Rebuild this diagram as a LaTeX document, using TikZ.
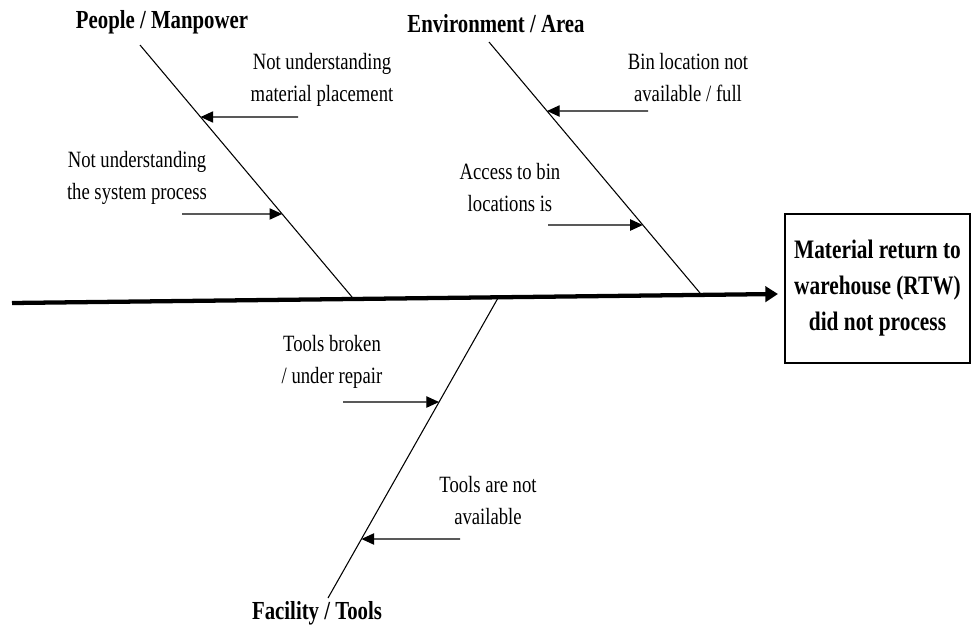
\documentclass[tikz,border=0pt]{standalone}
\usepackage{fontspec}
\setmainfont{Liberation Serif}
\newfontfamily\lblfont[FakeStretch=0.8]{Liberation Serif}
\usetikzlibrary{arrows.meta,calc}
\begin{document}
\begin{tikzpicture}[x=0.75pt,y=-0.75pt,
  lbl/.style={font=\lblfont\fontsize{17.5}{24}\selectfont, align=center, inner sep=0pt},
  ttl/.style={font=\lblfont\bfseries\fontsize{19.5}{24}\selectfont, inner sep=0pt},
  boxtxt/.style={draw, line width=0.9pt, font=\lblfont\bfseries\fontsize{20}{27}\selectfont, align=center,
     minimum width=138.75pt, minimum height=111.75pt, inner sep=0pt},
  bone/.style={line width=0.8pt},
  cause/.style={line width=0.9pt, -{Triangle[length=9.5pt,width=8.5pt]}},
  spine/.style={line width=3.2pt, -{Triangle[length=9.5pt,width=11.5pt]}}]
\useasboundingbox (0,0) rectangle (972,629);
\fill[white] (0,0) rectangle (972,629);

% spine
\coordinate (sL) at (12,303);
\coordinate (sR) at (778,294);
\node[boxtxt] (eff) at (877.5,288.5) {Material return to\\warehouse (RTW)\\did not process};
\draw[spine] (sL) -- (sR);

% branch end points
\coordinate (pT) at (140,45);  \coordinate (pB) at (352,297);
\coordinate (eT) at (489,42);  \coordinate (eB) at (700,293);
\coordinate (fT) at (498,298); \coordinate (fB) at (328,598);
\draw[bone] (pT) -- (pB);
\draw[bone] (eT) -- (eB);
\draw[bone] (fT) -- (fB);

% titles
\node[ttl] (tP) at (162,22) {People / Manpower};
\node[ttl] (tE) at (496,24) {Environment / Area};
\node[ttl] (tF) at (317,613) {Facility / Tools};

% cause labels
\node[lbl] (c1) at (322,80) {Not understanding\\material placement};
\node[lbl] (c2) at (137,178) {Not understanding\\the system process};
\node[lbl] (c3) at (688,78) {Bin location not\\available / full};
\node[lbl] (c4) at (510,188) {Access to bin\\locations is};
\node[lbl] (c5) at (332,362) {Tools broken\\/ under repair};
\node[lbl] (c6) at (488,501) {Tools are not\\available};

% cause arrows
\coordinate (a1s) at (298,117); \coordinate (a1e) at ($(pT)!0.2857!(pB)$);
\coordinate (a2s) at (182,214); \coordinate (a2e) at ($(pT)!0.6706!(pB)$);
\coordinate (a3s) at (648,111); \coordinate (a3e) at ($(eT)!0.2749!(eB)$);
\coordinate (a4s) at (548,225); \coordinate (a4e) at ($(eT)!0.7291!(eB)$);
\coordinate (a5s) at (343,402); \coordinate (a5e) at ($(fT)!0.3467!(fB)$);
\coordinate (a6s) at (460,539); \coordinate (a6e) at ($(fT)!0.8033!(fB)$);
\draw[cause] (a1s) -- (a1e);
\draw[cause] (a2s) -- (a2e);
\draw[cause] (a3s) -- (a3e);
\draw[cause] (a4s) -- (a4e);
\draw[cause] (a5s) -- (a5e);
\draw[cause] (a6s) -- (a6e);
\end{tikzpicture}
\end{document}
